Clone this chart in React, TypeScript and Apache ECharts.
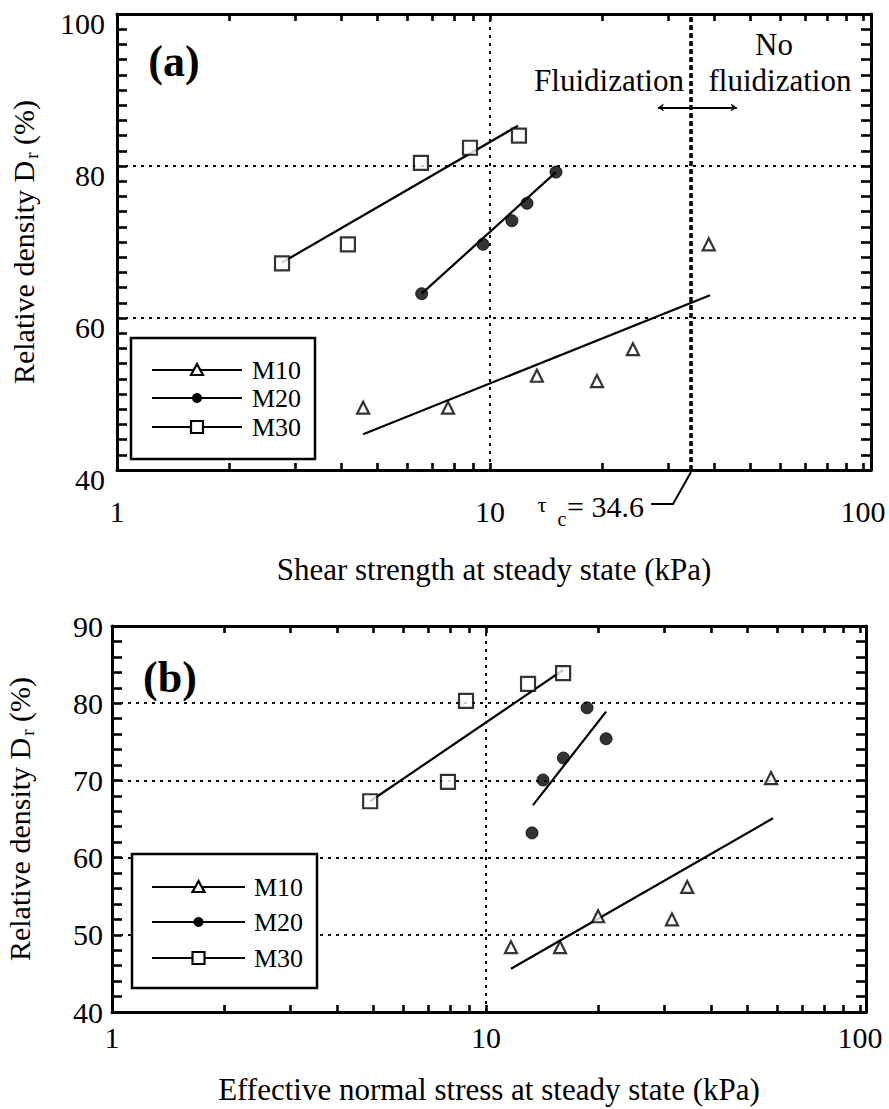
import React, { useEffect, useRef } from 'react';
import * as echarts from 'echarts';

// ---------- Data ----------
// Panel (a): shear strength at steady state (kPa) vs relative density (%)
const M10_A_X = [4.57, 7.72, 13.36, 19.36, 24.17, 38.6];
const M10_A_Y = [48.2, 48.2, 52.4, 51.7, 55.9, 69.7];
const M20_A_X = [6.56, 9.58, 11.45, 12.57, 15.03];
const M20_A_Y = [63.2, 69.7, 72.8, 75.1, 79.2];
const M30_A_X = [2.77, 4.16, 6.53, 8.84, 11.96];
const M30_A_Y = [67.2, 69.7, 80.4, 82.4, 84.0];
const FIT_M10_A = [[4.57, 44.7], [38.9, 63.0]];
const FIT_M20_A = [[6.56, 63.2], [15.03, 79.2]];
const FIT_M30_A = [[2.77, 67.3], [11.89, 85.3]];
const TAU_C = 34.6;
const ARROW_Y = 87.7;
const ARROW_LEFT = 28.2;
const ARROW_RIGHT = 45.9;

// Panel (b): effective normal stress at steady state (kPa) vs relative density (%)
const M10_B_X = [11.66, 15.77, 19.93, 31.4, 34.5, 57.8];
const M10_B_Y = [48.4, 48.4, 52.4, 52.0, 56.2, 70.3];
const M20_B_X = [13.27, 14.2, 16.1, 18.62, 20.94];
const M20_B_Y = [63.2, 70.05, 72.9, 79.4, 75.4];
const M30_B_X = [4.9, 7.91, 8.84, 12.95, 16.07];
const M30_B_Y = [67.3, 69.8, 80.3, 82.5, 83.9];
const FIT_M10_B = [[11.66, 45.6], [58.5, 65.1]];
const FIT_M20_B = [[13.35, 66.8], [20.94, 78.9]];
const FIT_M30_B = [[4.9, 67.3], [16.07, 84.3]];

// Axes (the plotted frame runs a little past 100 on the right, as in the figure)
const X_MIN = 1;
const X_MAX_A = 105.1;
const X_MAX_B = 103.7;
const X_LABELS = [1, 10, 100];
const X_GRID = [10];
const X_TICKS = [2, 3, 4, 5, 6, 7, 8, 9, 10, 20, 30, 40, 50, 60, 70, 80, 90, 100];
const Y_A = { min: 40, max: 100, interval: 20, minorStep: 2, grid: [60, 80] };
const Y_B = { min: 40, max: 90, interval: 10, minorStep: 2, grid: [50, 60, 70, 80] };
const SERIES_NAMES = ['M10', 'M20', 'M30'];

const FONT = '"Liberation Serif", "Times New Roman", serif';
const BLACK = '#000';
const DOTTED = { color: BLACK, width: 2, type: [3, 5] };

const zip = (xs: number[], ys: number[]) => xs.map((x, i) => [x, ys[i]]);

const yTickValues = (cfg: typeof Y_A) => {
  const out: number[] = [];
  for (let v = cfg.min + cfg.minorStep; v < cfg.max - 1e-9; v += cfg.minorStep) out.push(Math.round(v * 100) / 100);
  return out;
};

const xLabelFormatter = (v: number) => {
  const hit = X_LABELS.find((t) => Math.abs(t - v) / t < 1e-6);
  return hit !== undefined ? String(hit) : '';
};

function xAxisPair(gridIndex: number, xMax: number, name: string, labelMargin: number, nameGap: number) {
  const base = {
    gridIndex,
    type: 'log',
    logBase: 10,
    min: X_MIN,
    max: xMax,
    axisLine: { show: true, onZero: false, lineStyle: { color: BLACK, width: 3 } },
    axisTick: { show: true, inside: true, length: 7, customValues: X_TICKS, lineStyle: { color: BLACK, width: 2.6 } },
    splitLine: { show: false },
  };
  return [
    {
      ...base,
      position: 'bottom',
      axisLabel: {
        show: true,
        margin: labelMargin,
        fontSize: 30,
        fontFamily: FONT,
        color: BLACK,
        formatter: xLabelFormatter,
        showMaxLabel: false,
      },
      name,
      nameLocation: 'middle',
      nameGap,
      nameTextStyle: { fontSize: 31, fontFamily: FONT, color: BLACK },
    },
    { ...base, position: 'top', axisLabel: { show: false } },
  ];
}

function yAxisPair(gridIndex: number, cfg: typeof Y_A, labelMargin: number, labelPadTop: number, nameGap: number) {
  const base = {
    gridIndex,
    type: 'value',
    min: cfg.min,
    max: cfg.max,
    interval: cfg.interval,
    axisLine: { show: true, onZero: false, lineStyle: { color: BLACK, width: 3 } },
    axisTick: { show: true, inside: true, length: 10, customValues: yTickValues(cfg), lineStyle: { color: BLACK, width: 2.6 } },
    splitLine: { show: false },
  };
  return [
    {
      ...base,
      position: 'left',
      axisLabel: {
        show: true,
        margin: labelMargin,
        color: BLACK,
        formatter: '{v|{value}}',
        rich: { v: { fontSize: 30, fontFamily: FONT, color: BLACK, padding: [labelPadTop, 0, 0, 0] } },
      },
      name: '{a|Relative density D}{s|r}{a| (%)}',
      nameLocation: 'middle',
      nameGap,
      nameTextStyle: {
        color: BLACK,
        rich: {
          a: { fontSize: 30, fontFamily: FONT, color: BLACK },
          s: { fontSize: 19, fontFamily: FONT, color: BLACK, padding: [16, 0, 0, 2] },
        },
      },
    },
    { ...base, position: 'right', axisLabel: { show: false } },
  ];
}

const markerStyle = {
  M10: { symbol: 'triangle', symbolSize: 12, itemStyle: { color: '#fff', borderColor: BLACK, borderWidth: 2.2 } },
  M20: { symbol: 'circle', symbolSize: 12, itemStyle: { color: BLACK, borderColor: BLACK, borderWidth: 1 } },
  M30: { symbol: 'rect', symbolSize: 14, itemStyle: { color: '#fff', borderColor: BLACK, borderWidth: 2.2 } },
};

function scatter(name: string, data: number[][], xIdx: number, yIdx: number) {
  return { type: 'scatter', name, xAxisIndex: xIdx, yAxisIndex: yIdx, data, z: 5, ...(markerStyle as any)[name] };
}

function fit(name: string, data: number[][], xIdx: number, yIdx: number, extra: any = {}) {
  return {
    type: 'line',
    name: name + ' fit',
    xAxisIndex: xIdx,
    yAxisIndex: yIdx,
    data,
    showSymbol: false,
    symbol: 'none',
    lineStyle: { color: BLACK, width: 2.2 },
    z: 4,
    ...extra,
  };
}

function gridMarkLine(cfg: typeof Y_A) {
  return {
    silent: true,
    symbol: 'none',
    label: { show: false },
    lineStyle: DOTTED,
    data: [...X_GRID.map((v) => ({ xAxis: v })), ...cfg.grid.map((v) => ({ yAxis: v }))],
  };
}

function legendGraphic(box: { x: number; y: number; w: number; h: number }, rows: number[], lineX: [number, number], textX: number) {
  const els: any[] = [
    { type: 'rect', z: 100, shape: { x: box.x, y: box.y, width: box.w, height: box.h }, style: { fill: '#fff', stroke: BLACK, lineWidth: 2.5 } },
  ];
  const mid = (lineX[0] + lineX[1]) / 2;
  SERIES_NAMES.forEach((n, i) => {
    const y = rows[i];
    els.push({ type: 'line', z: 101, shape: { x1: lineX[0], y1: y, x2: lineX[1], y2: y }, style: { stroke: BLACK, lineWidth: 2.2 } });
    if (n === 'M10') {
      els.push({ type: 'polygon', z: 102, shape: { points: [[mid, y - 6], [mid + 6, y + 5], [mid - 6, y + 5]] }, style: { fill: '#fff', stroke: BLACK, lineWidth: 2.2 } });
    } else if (n === 'M20') {
      els.push({ type: 'circle', z: 102, shape: { cx: mid, cy: y, r: 5 }, style: { fill: BLACK } });
    } else {
      els.push({ type: 'rect', z: 102, shape: { x: mid - 6, y: y - 6, width: 12, height: 12 }, style: { fill: '#fff', stroke: BLACK, lineWidth: 2.2 } });
    }
    els.push({ type: 'text', z: 102, x: textX, y, style: { text: n, font: `26px ${FONT}`, fill: BLACK, verticalAlign: 'middle', textAlign: 'left' } });
  });
  return els;
}

export default function App() {
  const ref = useRef<HTMLDivElement>(null);
  useEffect(() => {
    if (!ref.current) return;
    const chart = echarts.init(ref.current, undefined, { renderer: 'svg' });
    const [xa0, xa1] = xAxisPair(0, X_MAX_A, 'Shear strength at steady state (kPa)', 26, 84);
    const [xb0, xb1] = xAxisPair(1, X_MAX_B, 'Effective normal stress at steady state (kPa)', 10, 62);
    const [ya0, ya1] = yAxisPair(0, Y_A, 12, 18, 76);
    const [yb0, yb1] = yAxisPair(1, Y_B, 9, 0, 75);

    const option: any = {
      animation: false,
      backgroundColor: '#fff',
      grid: [
        { left: 117, top: 14, width: 754, height: 456, outerBoundsMode: 'none', containLabel: false },
        { left: 112, top: 626, width: 754, height: 386, outerBoundsMode: 'none', containLabel: false },
      ],
      xAxis: [xa0, xa1, xb0, xb1],
      yAxis: [ya0, ya1, yb0, yb1],
      series: [
        fit('M10', FIT_M10_A, 0, 0, {
          markLine: {
            silent: true,
            symbol: 'none',
            label: { show: false },
            data: [
              { xAxis: TAU_C, lineStyle: { color: BLACK, width: 3.5, type: [5, 3] } },
              [
                { coord: [TAU_C, ARROW_Y], symbol: 'none' },
                { coord: [ARROW_LEFT, ARROW_Y], symbol: 'arrow', symbolSize: 6, lineStyle: { color: BLACK, width: 2, type: 'solid' } },
              ],
              [
                { coord: [TAU_C, ARROW_Y], symbol: 'none' },
                { coord: [ARROW_RIGHT, ARROW_Y], symbol: 'arrow', symbolSize: 6, lineStyle: { color: BLACK, width: 2, type: 'solid' } },
              ],
            ],
          },
        }),
        fit('M20', FIT_M20_A, 0, 0, { markLine: gridMarkLine(Y_A) }),
        fit('M30', FIT_M30_A, 0, 0),
        scatter('M10', zip(M10_A_X, M10_A_Y), 0, 0),
        scatter('M20', zip(M20_A_X, M20_A_Y), 0, 0),
        scatter('M30', zip(M30_A_X, M30_A_Y), 0, 0),
        fit('M10', FIT_M10_B, 2, 2),
        fit('M20', FIT_M20_B, 2, 2, { markLine: gridMarkLine(Y_B) }),
        fit('M30', FIT_M30_B, 2, 2),
        scatter('M10', zip(M10_B_X, M10_B_Y), 2, 2),
        scatter('M20', zip(M20_B_X, M20_B_Y), 2, 2),
        scatter('M30', zip(M30_B_X, M30_B_Y), 2, 2),
      ],
    };
    chart.setOption(option);

    const p = chart.convertToPixel({ xAxisIndex: 0, yAxisIndex: 0 }, [TAU_C, Y_A.min]) as number[];
    const graphic: any[] = [
      { type: 'text', x: 174, y: 61, style: { text: '(a)', font: `bold 44px ${FONT}`, fill: BLACK, textAlign: 'center', verticalAlign: 'middle' } },
      { type: 'text', x: 170, y: 677, style: { text: '(b)', font: `bold 44px ${FONT}`, fill: BLACK, textAlign: 'center', verticalAlign: 'middle' } },
      { type: 'text', x: 609, y: 80, style: { text: 'Fluidization', font: `31px ${FONT}`, fill: BLACK, textAlign: 'center', verticalAlign: 'middle' } },
      { type: 'text', x: 774, y: 44, style: { text: 'No', font: `31px ${FONT}`, fill: BLACK, textAlign: 'center', verticalAlign: 'middle' } },
      { type: 'text', x: 780, y: 80, style: { text: 'fluidization', font: `31px ${FONT}`, fill: BLACK, textAlign: 'center', verticalAlign: 'middle' } },
      { type: 'text', x: 542, y: 504, style: { text: 'τ', font: `22px ${FONT}`, fill: BLACK, textAlign: 'center', verticalAlign: 'middle' } },
      { type: 'text', x: 562, y: 519, style: { text: 'c', font: `20px ${FONT}`, fill: BLACK, textAlign: 'center', verticalAlign: 'middle' } },
      { type: 'text', x: 567, y: 506, style: { text: '= 34.6', font: `30px ${FONT}`, fill: BLACK, textAlign: 'left', verticalAlign: 'middle' } },
      {
        type: 'polyline',
        shape: { points: [[p[0], p[1] + 2], [p[0] - 18, p[1] + 34], [p[0] - 40, p[1] + 34]] },
        style: { stroke: BLACK, lineWidth: 2, fill: 'none' },
      },
      ...legendGraphic({ x: 131, y: 338, w: 184, h: 121 }, [370, 398, 427], [152, 242], 252),
      ...legendGraphic({ x: 132, y: 854, w: 185, h: 134 }, [887, 922, 958], [152, 245], 254),
    ];
    chart.setOption({ graphic });
    return () => chart.dispose();
  }, []);
  return <div ref={ref} style={{ position: 'absolute', left: 0, top: 0, width: 889, height: 1109 }} />;
}
